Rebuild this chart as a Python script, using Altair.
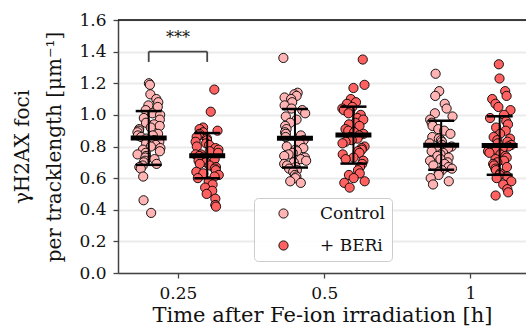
import altair as alt
import pandas as pd

# ---- data ----
times = ["0.25", "0.5", "1"]
groups = ["Control", "+ BERi"]
colors = ["#ffb3b3", "#ff6161"]

c_025 = [1.20, 1.19, 1.13, 1.10, 1.08, 1.06, 1.05, 1.03, 1.01, 1.00, 0.98, 0.97, 0.95, 0.94, 0.93,
         0.92, 0.91, 0.90, 0.89, 0.88, 0.87, 0.87, 0.86, 0.85, 0.84, 0.83, 0.82, 0.81, 0.80, 0.79,
         0.78, 0.77, 0.76, 0.75, 0.74, 0.73, 0.72, 0.71, 0.70, 0.69, 0.68, 0.67, 0.66, 0.61, 0.46, 0.38]
b_025 = [1.16, 1.02, 0.92, 0.91, 0.90, 0.89, 0.88, 0.87, 0.86, 0.85, 0.84, 0.83, 0.82, 0.81, 0.80,
         0.79, 0.78, 0.77, 0.76, 0.75, 0.75, 0.74, 0.73, 0.72, 0.71, 0.70, 0.69, 0.68, 0.67, 0.66,
         0.65, 0.64, 0.63, 0.62, 0.61, 0.60, 0.58, 0.56, 0.54, 0.52, 0.50, 0.47, 0.43, 0.42]
c_05 = [1.36, 1.14, 1.13, 1.12, 1.11, 1.10, 1.08, 1.06, 1.04, 1.03, 1.01, 0.99, 0.97, 0.95, 0.93,
        0.91, 0.89, 0.88, 0.87, 0.86, 0.84, 0.82, 0.80, 0.79, 0.78, 0.77, 0.76, 0.75, 0.74, 0.73,
        0.72, 0.71, 0.70, 0.69, 0.68, 0.67, 0.66, 0.65, 0.64, 0.62, 0.61, 0.60, 0.58, 0.57]
b_05 = [1.35, 1.19, 1.17, 1.10, 1.08, 1.07, 1.05, 1.04, 1.03, 1.02, 1.01, 1.00, 0.98, 0.97, 0.95,
        0.94, 0.93, 0.91, 0.90, 0.89, 0.88, 0.87, 0.86, 0.85, 0.84, 0.83, 0.82, 0.80, 0.79, 0.78,
        0.77, 0.76, 0.75, 0.73, 0.72, 0.71, 0.69, 0.67, 0.65, 0.63, 0.62, 0.60, 0.58, 0.57, 0.54]
c_1 = [1.26, 1.15, 1.12, 1.07, 1.04, 1.01, 0.99, 0.97, 0.95, 0.93, 0.91, 0.90, 0.88, 0.86, 0.85,
       0.84, 0.83, 0.82, 0.81, 0.80, 0.79, 0.78, 0.77, 0.76, 0.75, 0.74, 0.73, 0.72, 0.71, 0.70,
       0.69, 0.68, 0.67, 0.66, 0.65, 0.64, 0.62, 0.60, 0.58, 0.56]
b_1 = [1.32, 1.23, 1.15, 1.12, 1.10, 1.07, 1.05, 1.03, 1.00, 0.98, 0.96, 0.94, 0.92, 0.90, 0.88,
       0.86, 0.85, 0.84, 0.83, 0.82, 0.81, 0.80, 0.79, 0.78, 0.77, 0.76, 0.75, 0.74, 0.73, 0.72,
       0.71, 0.70, 0.69, 0.68, 0.67, 0.66, 0.65, 0.63, 0.62, 0.61, 0.60, 0.58, 0.56, 0.53, 0.51, 0.49]

# group means and standard deviations
stat_time = ["0.25", "0.25", "0.5", "0.5", "1", "1"]
stat_group = ["Control", "+ BERi", "Control", "+ BERi", "Control", "+ BERi"]
means = [0.854, 0.742, 0.852, 0.872, 0.808, 0.806]
sds = [0.170, 0.143, 0.185, 0.180, 0.155, 0.185]

y_ticks = [0.0, 0.2, 0.4, 0.6, 0.8, 1.0, 1.2, 1.4, 1.6]

# significance bracket
sig_time = "0.25"
sig_level = 1.40
sig_drop = 0.065
sig_text = "***"

FONT = "DejaVu Serif"

series = [("0.25", "Control", c_025), ("0.25", "+ BERi", b_025),
          ("0.5", "Control", c_05), ("0.5", "+ BERi", b_05),
          ("1", "Control", c_1), ("1", "+ BERi", b_1)]
rows = []
for t, g, vals in series:
    for k, v in enumerate(vals):
        rows.append({"time": t, "group": g, "value": v, "k": k})
pts = pd.DataFrame(rows)
stats = pd.DataFrame({"time": stat_time, "group": stat_group, "mean": means, "sd": sds})
sig = pd.DataFrame({"time": [sig_time], "level": [sig_level], "text": [sig_text]})

idx_expr = "indexof(['0.25','0.5','1'], datum.time)"
off_expr = "datum.group == 'Control' ? -0.2 : 0.2"

xscale = alt.Scale(domain=[-0.41, 2.38], nice=False, zero=False)
yscale = alt.Scale(domain=[0, 1.6], nice=False)

xaxis = alt.Axis(values=[0, 1, 2], labelExpr="['0.25','0.5','1'][datum.value]",
                 grid=False, tickSize=5, tickColor="#444444", tickWidth=1.3,
                 domainColor="#444444", domainWidth=1.5, labelFontSize=17,
                 labelFont=FONT, titleFont=FONT,
                 labelPadding=7, titleFontSize=21, titleFontWeight="normal",
                 titlePadding=3, labelColor="#111111", titleColor="#111111")
yaxis = alt.Axis(values=y_ticks, format=".1f",
                 grid=True, gridColor="#ebebeb", gridWidth=2, tickSize=5,
                 tickColor="#444444", tickWidth=1.3, domainColor="#444444",
                 labelFont=FONT, titleFont=FONT, labelOverlap=False,
                 domainWidth=1.5, labelFontSize=17, labelPadding=7,
                 titleFontSize=20, titleFontWeight="normal", titlePadding=14,
                 titleLineHeight=32, labelColor="#111111", titleColor="#111111")
XT = "Time after Fe-ion irradiation [h]"
YT = ["γH2AX foci", "per tracklength [μm⁻¹]"]


def X(f):
    return alt.X(f, scale=xscale, axis=xaxis, title=XT)


def Y(f):
    return alt.Y(f, scale=yscale, axis=yaxis, title=YT)


points = alt.Chart(pts).transform_calculate(
    idx=idx_expr, off=off_expr,
    jit="(abs(sin(datum.k * 12.9898 + (datum.group == 'Control' ? 3.1 : 7.7) + indexof(['0.25','0.5','1'], datum.time) * 5.3) * 43758.5453) % 1 - 0.5) * 0.16",
).transform_calculate(
    pos="datum.idx + datum.off + datum.jit"
).mark_circle(size=85, opacity=1, stroke="black", strokeWidth=0.9).encode(
    x=X("pos:Q"),
    y=Y("value:Q"),
    color=alt.Color("group:N", scale=alt.Scale(domain=groups, range=colors),
                    legend=alt.Legend(title=None, orient="none", legendX=136, legendY=178,
                                      symbolType="circle", symbolSize=85,
                                      symbolStrokeColor="black", symbolStrokeWidth=0.9,
                                      symbolOffset=14, labelOffset=28, rowPadding=14,
                                      padding=7, labelFont=FONT, labelFontSize=17,
                                      labelColor="#111111",
                                      strokeColor="#cccccc", fillColor="rgba(255,255,255,0.85)",
                                      cornerRadius=4)),
)

sbase = alt.Chart(stats).transform_calculate(
    pos=f"{idx_expr} + ({off_expr})",
    lo="datum.mean - datum.sd", hi="datum.mean + datum.sd",
).transform_calculate(
    ml="datum.pos - 0.123", mr="datum.pos + 0.123",
    cl="datum.pos - 0.089", cr="datum.pos + 0.089",
)
vline = sbase.mark_rule(color="black", strokeWidth=2).encode(
    x=X("pos:Q"), y=Y("lo:Q"), y2="hi:Q")
cap_hi = sbase.mark_rule(color="black", strokeWidth=2.5).encode(
    x=X("cl:Q"), x2="cr:Q", y=Y("hi:Q"))
cap_lo = sbase.mark_rule(color="black", strokeWidth=2.5).encode(
    x=X("cl:Q"), x2="cr:Q", y=Y("lo:Q"))
mean_bar = sbase.mark_rule(color="black", strokeWidth=5).encode(
    x=X("ml:Q"), x2="mr:Q", y=Y("mean:Q"))

sbr = alt.Chart(sig).transform_calculate(
    c=idx_expr, l=f"{idx_expr} - 0.2", r=f"{idx_expr} + 0.2",
    low=f"datum.level - {sig_drop}", ty="datum.level + 0.085", top="1.6")
top_rule = sbr.mark_rule(color="black", strokeWidth=1.5).encode(y=Y("top:Q"))
br_h = sbr.mark_rule(color="#444444", strokeWidth=1.8).encode(
    x=X("l:Q"), x2="r:Q", y=Y("level:Q"))
br_l = sbr.mark_rule(color="#444444", strokeWidth=1.8).encode(
    x=X("l:Q"), y=Y("level:Q"), y2="low:Q")
br_r = sbr.mark_rule(color="#444444", strokeWidth=1.8).encode(
    x=X("r:Q"), y=Y("level:Q"), y2="low:Q")
br_t = sbr.mark_text(font=FONT, fontSize=16, color="#111111", baseline="middle").encode(
    x=X("c:Q"), y=Y("ty:Q"), text="text:N")

chart = alt.layer(points, vline, cap_hi, cap_lo, mean_bar, top_rule,
                  br_h, br_l, br_r, br_t).properties(
    width=408, height=253,
    autosize=alt.AutoSizeParams(type="none"),
    padding={"left": 118, "top": 20, "right": 0, "bottom": 61},
).configure_view(stroke=None).configure(font=FONT).configure_axis(
    labelFont=FONT, titleFont=FONT, labelOverlap=False).configure_legend(labelFont=FONT)

chart.save("out.html", embed_options={"renderer": "svg", "actions": False})
